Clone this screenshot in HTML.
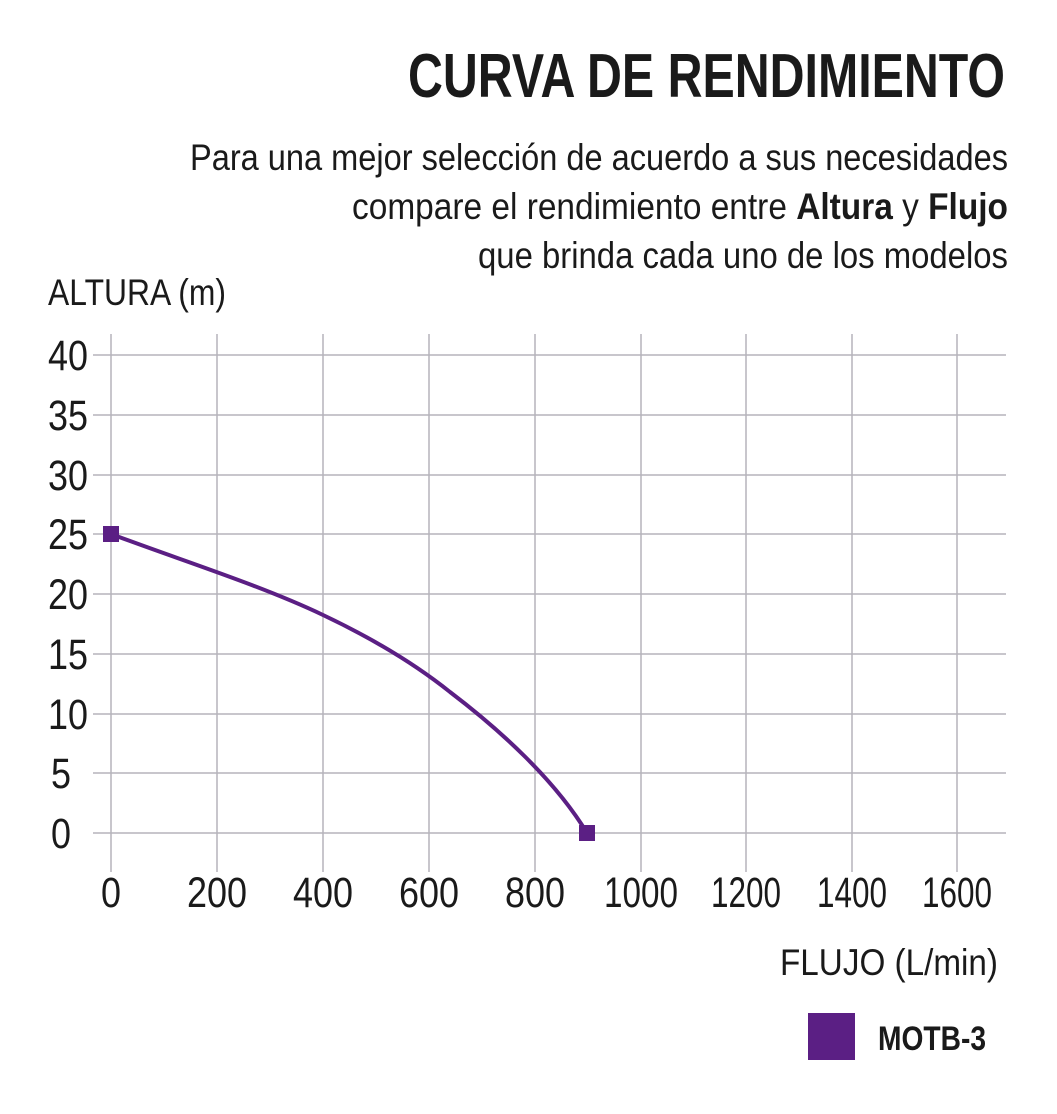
<!DOCTYPE html>
<html><head><meta charset="utf-8"><style>
html,body{margin:0;padding:0;background:#fff;}
svg{display:block;}
text{font-family:"Liberation Sans",sans-serif;fill:#1a1a1a;}
</style></head><body>
<svg width="1057" height="1114" viewBox="0 0 1057 1114">
<text x="1005" y="97" text-anchor="end" font-size="62" font-weight="bold" textLength="597" lengthAdjust="spacingAndGlyphs">CURVA DE RENDIMIENTO</text>
<text x="1008" y="170" text-anchor="end" font-size="37" textLength="818" lengthAdjust="spacingAndGlyphs">Para una mejor selección de acuerdo a sus necesidades</text>
<text x="1008" y="219" text-anchor="end" font-size="37" textLength="656" lengthAdjust="spacingAndGlyphs">compare el rendimiento entre <tspan font-weight="bold">Altura</tspan> y <tspan font-weight="bold">Flujo</tspan></text>
<text x="1008" y="268" text-anchor="end" font-size="37" textLength="530" lengthAdjust="spacingAndGlyphs">que brinda cada uno de los modelos</text>
<text x="48" y="305" font-size="37" textLength="178" lengthAdjust="spacingAndGlyphs">ALTURA (m)</text>
<g stroke="#b5b3bb" stroke-width="1.5">
<line x1="93" y1="355" x2="1006" y2="355"/><line x1="93" y1="415" x2="1006" y2="415"/>
<line x1="93" y1="475" x2="1006" y2="475"/><line x1="93" y1="534" x2="1006" y2="534"/>
<line x1="93" y1="594" x2="1006" y2="594"/><line x1="93" y1="654" x2="1006" y2="654"/>
<line x1="93" y1="714" x2="1006" y2="714"/><line x1="93" y1="773" x2="1006" y2="773"/>
<line x1="93" y1="833" x2="1006" y2="833"/>
<line x1="111" y1="334" x2="111" y2="872"/><line x1="217" y1="334" x2="217" y2="872"/>
<line x1="323" y1="334" x2="323" y2="872"/><line x1="429" y1="334" x2="429" y2="872"/>
<line x1="535" y1="334" x2="535" y2="872"/><line x1="641" y1="334" x2="641" y2="872"/>
<line x1="746" y1="334" x2="746" y2="872"/><line x1="852" y1="334" x2="852" y2="872"/>
<line x1="957" y1="334" x2="957" y2="872"/>
</g>
<g font-size="43" text-anchor="end">
<text x="88" y="370" textLength="40" lengthAdjust="spacingAndGlyphs">40</text>
<text x="88" y="430" textLength="40" lengthAdjust="spacingAndGlyphs">35</text>
<text x="88" y="490" textLength="40" lengthAdjust="spacingAndGlyphs">30</text>
<text x="88" y="549" textLength="40" lengthAdjust="spacingAndGlyphs">25</text>
<text x="88" y="609" textLength="40" lengthAdjust="spacingAndGlyphs">20</text>
<text x="88" y="669" textLength="40" lengthAdjust="spacingAndGlyphs">15</text>
<text x="88" y="729" textLength="40" lengthAdjust="spacingAndGlyphs">10</text>
<text x="71" y="788" textLength="20" lengthAdjust="spacingAndGlyphs">5</text>
<text x="71" y="848" textLength="20" lengthAdjust="spacingAndGlyphs">0</text>
</g>
<g font-size="43" text-anchor="middle">
<text x="111" y="907" textLength="20" lengthAdjust="spacingAndGlyphs">0</text>
<text x="217" y="907" textLength="60" lengthAdjust="spacingAndGlyphs">200</text>
<text x="323" y="907" textLength="60" lengthAdjust="spacingAndGlyphs">400</text>
<text x="429" y="907" textLength="60" lengthAdjust="spacingAndGlyphs">600</text>
<text x="535" y="907" textLength="60" lengthAdjust="spacingAndGlyphs">800</text>
<text x="641" y="907" textLength="74" lengthAdjust="spacingAndGlyphs">1000</text>
<text x="746" y="907" textLength="70" lengthAdjust="spacingAndGlyphs">1200</text>
<text x="852" y="907" textLength="70" lengthAdjust="spacingAndGlyphs">1400</text>
<text x="957" y="907" textLength="70" lengthAdjust="spacingAndGlyphs">1600</text>
</g>
<text x="998" y="975" text-anchor="end" font-size="37" textLength="218" lengthAdjust="spacingAndGlyphs">FLUJO (L/min)</text>
<path d="M111,534 C180,560 260,585 323,615 C380,642 420,668 450,692 C500,730 555,780 587,833" fill="none" stroke="#5b1f84" stroke-width="4"/>
<rect x="103" y="526" width="16" height="16" fill="#5b1f84"/>
<rect x="579" y="825" width="16" height="16" fill="#5b1f84"/>
<rect x="808" y="1013" width="47" height="47" fill="#5b1f84"/>
<text x="878" y="1050" font-size="34" font-weight="bold" textLength="108" lengthAdjust="spacingAndGlyphs">MOTB-3</text>
</svg>
</body></html>
